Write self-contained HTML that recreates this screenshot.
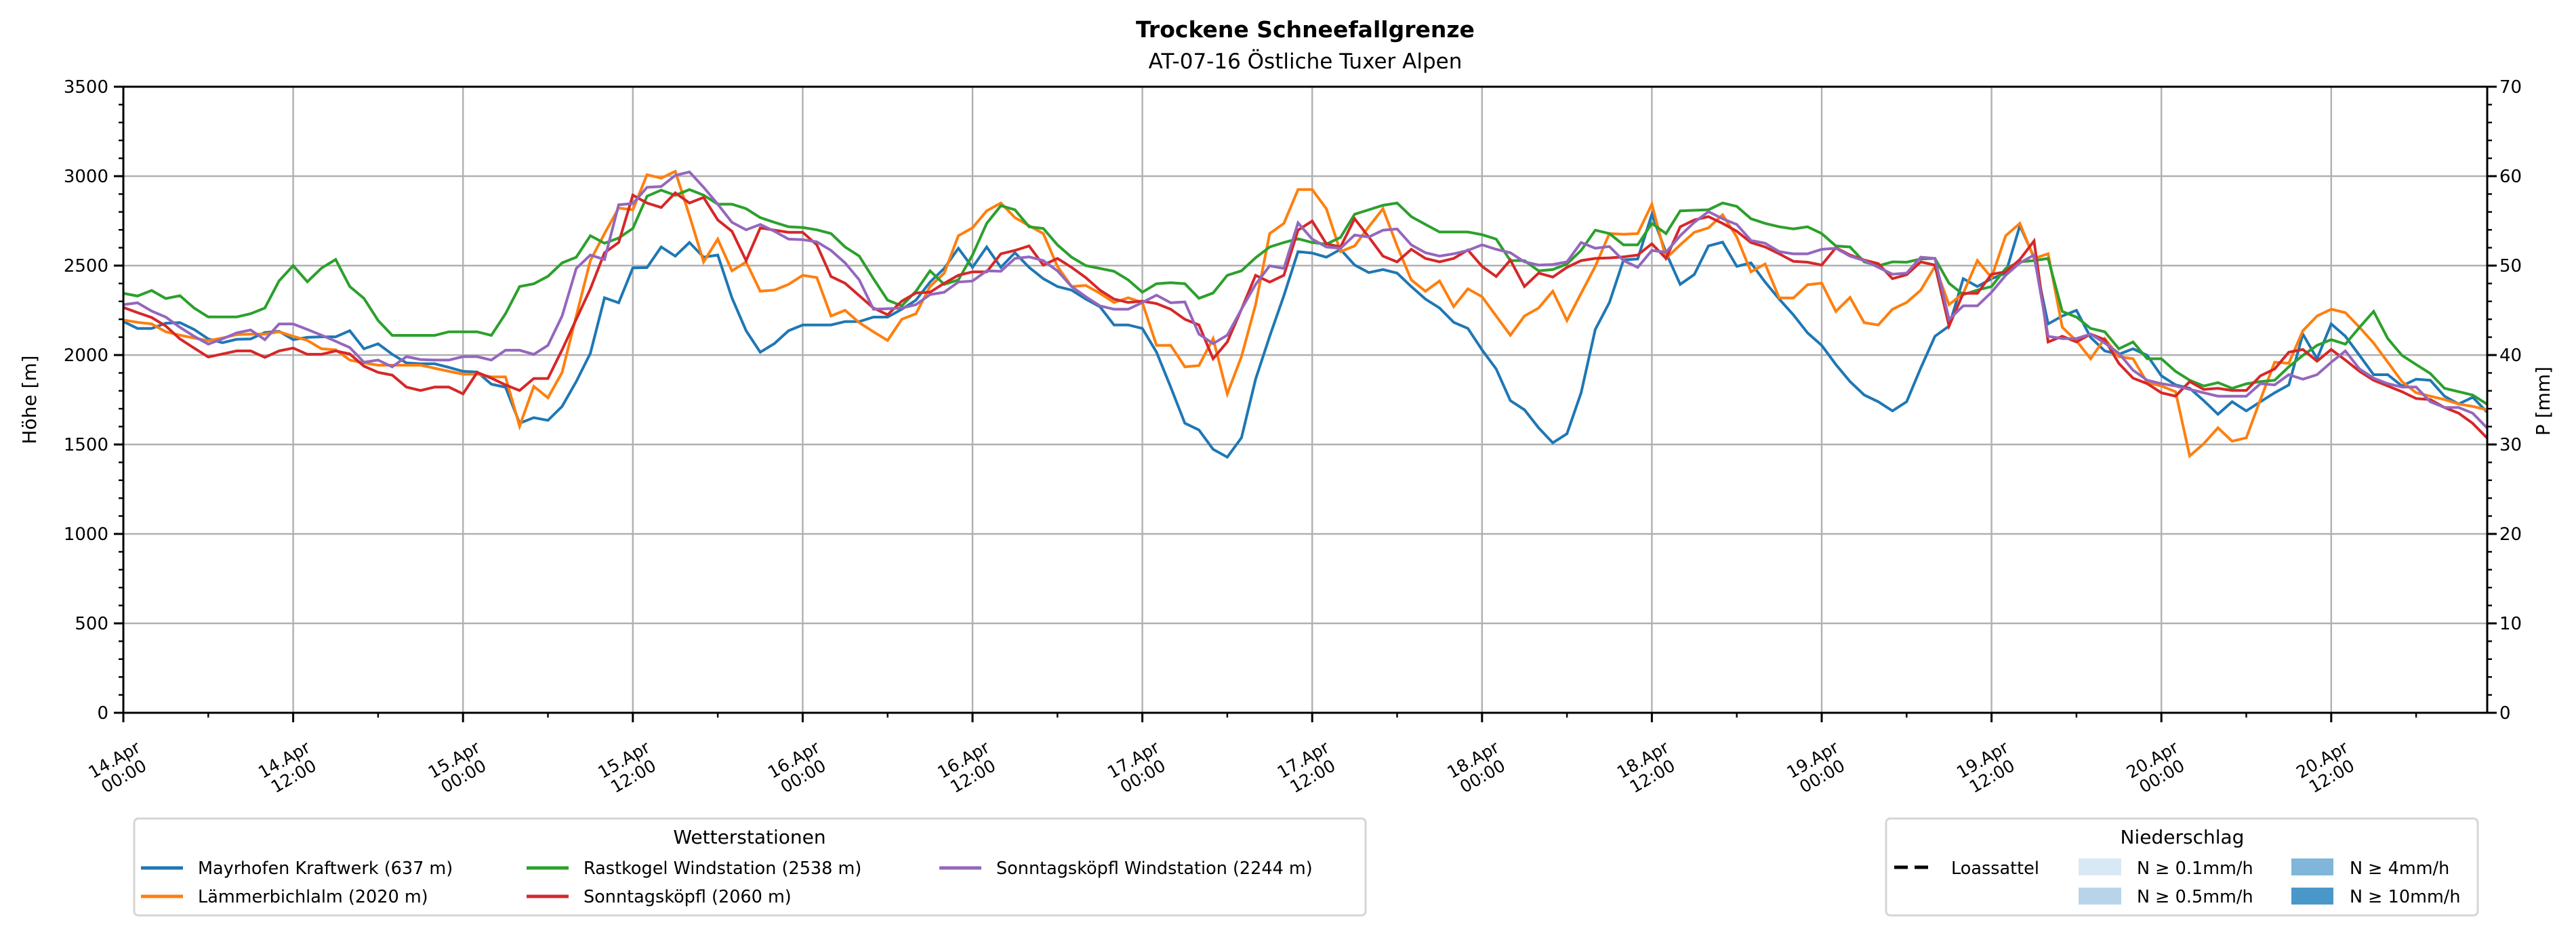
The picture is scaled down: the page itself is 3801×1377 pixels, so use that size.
<!DOCTYPE html>
<html><head><meta charset="utf-8"><title>Trockene Schneefallgrenze</title>
<style>
html,body{margin:0;padding:0;background:#fff;}
svg{display:block;font-family:"DejaVu Sans","Liberation Sans",sans-serif;}
</style></head>
<body>
<svg id="chart" width="3801" height="1377" viewBox="0 0 3801 1377" xmlns="http://www.w3.org/2000/svg">
<rect x="0" y="0" width="3801" height="1377" fill="#fff"/>
<text x="1926" y="55" text-anchor="middle" font-size="33" font-weight="bold">Trockene Schneefallgrenze</text>
<text x="1926" y="101" text-anchor="middle" font-size="31">AT-07-16 Östliche Tuxer Alpen</text>
<g id="grid"></g>
<g id="lines"></g>
<g id="axes"></g>
<text x="0" y="0" transform="translate(53,590) rotate(-90)" text-anchor="middle" font-size="28">Höhe [m]</text>
<text x="0" y="0" transform="translate(3762,592) rotate(-90)" text-anchor="middle" font-size="28">P [mm]</text>

<g>
<rect x="198" y="1208" width="1817" height="143" rx="6" fill="#fff" stroke="#d6d6d6" stroke-width="3"/>
<text x="1106" y="1245" text-anchor="middle" font-size="28">Wetterstationen</text>
<g><line x1="208" y1="1281" x2="270" y2="1281" stroke="#1f77b4" stroke-width="5"/><text x="292" y="1290" font-size="25.5">Mayrhofen Kraftwerk (637 m)</text></g>
<g><line x1="208" y1="1323" x2="270" y2="1323" stroke="#ff7f0e" stroke-width="5"/><text x="292" y="1332" font-size="25.5">Lämmerbichlalm (2020 m)</text></g>
<g><line x1="777" y1="1281" x2="839" y2="1281" stroke="#2ca02c" stroke-width="5"/><text x="861" y="1290" font-size="25.5">Rastkogel Windstation (2538 m)</text></g>
<g><line x1="777" y1="1323" x2="839" y2="1323" stroke="#d62728" stroke-width="5"/><text x="861" y="1332" font-size="25.5">Sonntagsköpfl (2060 m)</text></g>
<g><line x1="1386" y1="1281" x2="1448" y2="1281" stroke="#9467bd" stroke-width="5"/><text x="1470" y="1290" font-size="25.5">Sonntagsköpfl Windstation (2244 m)</text></g>
</g>

<g>
<rect x="2783" y="1208" width="873" height="143" rx="6" fill="#fff" stroke="#d6d6d6" stroke-width="3"/>
<text x="3220" y="1245" text-anchor="middle" font-size="28">Niederschlag</text>
<g><line x1="2795" y1="1280" x2="2851" y2="1280" stroke="#000" stroke-width="5" stroke-dasharray="20,10"/><text x="2879" y="1290" font-size="25.5">Loassattel</text></g>
<g><rect x="3067" y="1267" width="63" height="25" fill="#d9e8f5"/><text x="3153" y="1290" font-size="25.5">N ≥ 0.1mm/h</text></g>
<g><rect x="3067" y="1310" width="63" height="25" fill="#b8d4ea"/><text x="3153" y="1332" font-size="25.5">N ≥ 0.5mm/h</text></g>
<g><rect x="3381" y="1267" width="62" height="25" fill="#7fb6d9"/><text x="3467" y="1290" font-size="25.5">N ≥ 4mm/h</text></g>
<g><rect x="3381" y="1310" width="62" height="25" fill="#4a98c9"/><text x="3467" y="1332" font-size="25.5">N ≥ 10mm/h</text></g>
</g>
</svg>
<script>
// ---- data (hourly, starting 14.Apr 00:00) ----
const hoursTotal = 167;
const yTicks = [0,500,1000,1500,2000,2500,3000,3500];
const y2Ticks = [0,10,20,30,40,50,60,70];
const xTickDays = ["14.Apr","14.Apr","15.Apr","15.Apr","16.Apr","16.Apr","17.Apr","17.Apr","18.Apr","18.Apr","19.Apr","19.Apr","20.Apr","20.Apr"];
const xTickTimes = ["00:00","12:00","00:00","12:00","00:00","12:00","00:00","12:00","00:00","12:00","00:00","12:00","00:00","12:00"];
const mayrhofen = [2187,2149,2149,2178,2181,2143,2090,2069,2088,2090,2126,2133,2086,2099,2102,2102,2136,2035,2063,2004,1956,1951,1951,1931,1909,1905,1837,1820,1619,1650,1635,1713,1852,2010,2320,2292,2487,2489,2604,2553,2629,2547,2559,
2320,2136,2016,2064,2136,2168,2168,2168,2187,2187,2212,2212,2256,2307,2408,2484,2597,2490,2604,2490,2572,2490,2427,2383,2363,2313,2270,2168,2168,2149,2016,1821,1619,1581,1473,1429,1537,1865,2105,2332,2578,2570,
2547,2591,2503,2461,2478,2458,2383,2313,2263,2183,2149,2029,1922,1745,1694,1593,1509,1560,1789,2143,2294,2532,2537,2787,2572,2395,2450,2610,2631,2496,2515,2408,2313,2225,2124,2054,1947,1852,1777,1739,1688,
1739,1928,2105,2162,2427,2383,2427,2458,2723,2547,2174,2218,2250,2099,2023,2004,2035,1998,1884,1833,1814,1745,1669,1739,1688,1739,1789,1833,2117,1979,2174,2105,1998,1890,1890,1827,1865,1859,1770,1726,1764,1682];
const laemmerbichl = [2196,2183,2174,2130,2111,2095,2080,2095,2114,2117,2117,2130,2105,2082,2035,2029,1972,1956,1943,1943,1943,1943,1926,1909,1893,1893,1878,1878,1602,1825,1761,1903,2218,2528,2679,2822,2812,3008,2989,3027,2780,2521,2648,
2471,2521,2357,2363,2395,2446,2433,2218,2250,2181,2130,2082,2200,2231,2383,2458,2667,2711,2806,2850,2768,2723,2679,2496,2383,2389,2345,2294,2320,2294,2054,2054,1934,1941,2092,1783,1991,2282,2679,2736,2925,2925,
2818,2578,2610,2717,2818,2610,2420,2357,2414,2271,2370,2326,2218,2111,2218,2263,2357,2193,2345,2496,2679,2675,2679,2843,2540,2616,2686,2711,2784,2660,2465,2509,2319,2319,2393,2402,2244,2322,2181,2168,2256,
2294,2363,2496,2282,2345,2528,2433,2667,2736,2540,2566,2155,2080,1979,2092,1991,1979,1846,1827,1795,1436,1505,1593,1518,1537,1751,1960,1954,2136,2218,2256,2237,2155,2067,1960,1852,1789,1770,1751,1726,1713,1694];
const rastkogel = [2345,2330,2361,2316,2332,2263,2213,2213,2213,2231,2263,2414,2500,2410,2486,2534,2383,2317,2193,2110,2110,2110,2110,2130,2130,2130,2110,2231,2383,2398,2440,2515,2547,2667,2625,2654,2708,2888,2922,2893,2925,2894,2843,
2843,2818,2768,2742,2717,2713,2700,2679,2604,2553,2427,2307,2275,2357,2471,2395,2420,2559,2736,2835,2812,2717,2708,2616,2547,2500,2484,2468,2420,2351,2399,2404,2399,2317,2347,2446,2471,2544,2604,2629,2650,2629,
2620,2658,2787,2812,2837,2850,2774,2730,2688,2688,2688,2673,2648,2528,2528,2471,2478,2509,2585,2698,2679,2616,2616,2736,2679,2806,2809,2812,2850,2831,2762,2736,2717,2705,2717,2679,2610,2604,2521,2499,2521,
2519,2537,2540,2401,2338,2363,2383,2484,2521,2528,2540,2244,2212,2149,2130,2035,2073,1979,1979,1909,1859,1827,1846,1814,1839,1852,1859,1934,1998,2054,2086,2061,2155,2244,2092,1998,1947,1897,1814,1795,1776,1726];
const sonntagskoepfl = [2266,2237,2210,2162,2090,2039,1989,2006,2023,2023,1987,2023,2039,2004,2004,2023,2006,1938,1903,1888,1821,1802,1821,1821,1783,1903,1871,1833,1802,1869,1869,2029,2200,2370,2572,2629,2894,2850,2825,2907,2850,2881,2755,
2692,2528,2711,2698,2686,2686,2616,2439,2401,2332,2263,2225,2301,2347,2351,2401,2446,2465,2465,2566,2585,2610,2503,2540,2490,2433,2363,2313,2294,2301,2288,2256,2200,2168,1979,2073,2256,2446,2408,2446,2698,2749,
2622,2604,2762,2660,2553,2521,2591,2540,2521,2540,2587,2496,2439,2531,2383,2458,2436,2490,2528,2540,2543,2549,2559,2622,2540,2717,2755,2774,2736,2692,2629,2604,2566,2524,2519,2503,2600,2559,2531,2511,2427,
2449,2521,2503,2162,2345,2345,2452,2465,2534,2638,2073,2105,2073,2117,2086,1953,1871,1840,1789,1770,1852,1808,1814,1802,1802,1884,1922,2016,2031,1966,2031,1972,1909,1859,1827,1795,1757,1751,1707,1675,1618,1537];
const sonntagskoepflWind = [2282,2292,2246,2212,2155,2105,2061,2090,2124,2140,2086,2174,2174,2143,2111,2077,2042,1960,1972,1934,1991,1975,1972,1972,1991,1991,1972,2027,2027,2004,2054,2218,2484,2559,2534,2840,2847,2938,2942,3004,3024,2938,2843,
2742,2700,2730,2692,2648,2645,2633,2585,2515,2420,2256,2259,2263,2282,2338,2351,2408,2414,2471,2468,2540,2549,2528,2471,2383,2326,2275,2256,2256,2294,2335,2292,2297,2117,2064,2111,2256,2395,2499,2484,2739,2648,
2604,2597,2671,2660,2698,2705,2616,2572,2553,2566,2585,2616,2591,2572,2521,2503,2506,2521,2629,2597,2607,2528,2490,2585,2575,2667,2742,2802,2762,2730,2641,2625,2578,2566,2566,2591,2597,2553,2528,2490,2452,
2458,2547,2540,2199,2275,2275,2351,2446,2515,2559,2105,2092,2092,2117,2067,2010,1915,1859,1840,1827,1808,1789,1770,1770,1770,1840,1833,1890,1865,1890,1960,2023,1922,1871,1840,1821,1821,1739,1707,1707,1675,1593];

// ---- layout ----
const L = 182, R = 3670, T = 128, B = 1052;
const hourPx = 250.6 / 12;
const yMax = 3500;
function xs(h){ return L + h * hourPx; }
function ys(v){ return B - v / yMax * (B - T); }
const NS = "http://www.w3.org/2000/svg";
function mk(tag, attrs, parent){ const e = document.createElementNS(NS, tag); for (const k in attrs) e.setAttribute(k, attrs[k]); parent.appendChild(e); return e; }

const grid = document.getElementById('grid');
const axes = document.getElementById('axes');
const linesG = document.getElementById('lines');

yTicks.forEach((v, i) => {
  const y = ys(v);
  if (v > 0 && v < yMax) {
    const g = mk('line', {x1:L, x2:R, y1:y, y2:y, stroke:'#b0b0b0', 'stroke-width':2.4}, grid);
    
    
  }
  mk('line', {x1:L-14, x2:L, y1:y, y2:y, stroke:'#000', 'stroke-width':3}, axes);
  mk('line', {x1:R, x2:R+14, y1:y, y2:y, stroke:'#000', 'stroke-width':3}, axes);
  const t = mk('text', {x:L-22, y:y+9, 'text-anchor':'end', 'font-size':26}, axes);
  t.textContent = v;
  
  
  const t2 = mk('text', {x:R+18, y:y+9, 'text-anchor':'start', 'font-size':26}, axes);
  t2.textContent = y2Ticks[i];
  
  
});
for (let v = 100; v < yMax; v += 100) {
  if (v % 500 === 0) continue;
  const y = ys(v);
  mk('line', {x1:L-7, x2:L, y1:y, y2:y, stroke:'#000', 'stroke-width':2.4}, axes);
  mk('line', {x1:R, x2:R+7, y1:y, y2:y, stroke:'#000', 'stroke-width':2.4}, axes);
}
xTickDays.forEach((d, i) => {
  const x = xs(i * 12);
  if (i > 0) {
    const g = mk('line', {x1:x, x2:x, y1:T, y2:B, stroke:'#b0b0b0', 'stroke-width':2.4}, grid);
    
    
  }
  mk('line', {x1:x, x2:x, y1:B, y2:B+14, stroke:'#000', 'stroke-width':3}, axes);
  const xm = xs(i * 12 + 6);
  mk('line', {x1:xm, x2:xm, y1:B, y2:B+7, stroke:'#000', 'stroke-width':2.4}, axes);
  const t = mk('text', {transform:'translate(' + (x - 6) + ',1134) rotate(-30)', 'text-anchor':'middle', 'font-size':25}, axes);
  
  
  const s1 = mk('tspan', {x:0, y:-6}, t); s1.textContent = d;
  const s2 = mk('tspan', {x:0, y:22}, t); s2.textContent = xTickTimes[i];
});
const frame = mk('rect', {x:L, y:T, width:R-L, height:B-T, fill:'none', stroke:'#000', 'stroke-width':3}, axes);



const seriesList = [
  [mayrhofen, '#1f77b4', 'line-mayrhofen'],
  [laemmerbichl, '#ff7f0e', 'line-laemmerbichlalm'],
  [rastkogel, '#2ca02c', 'line-rastkogel'],
  [sonntagskoepfl, '#d62728', 'line-sonntagskoepfl'],
  [sonntagskoepflWind, '#9467bd', 'line-sonntagskoepfl-wind']
];
seriesList.forEach(s => {
  const pts = s[0].map((v, h) => xs(h).toFixed(1) + ',' + ys(v).toFixed(1)).join(' ');
  const p = mk('polyline', {points:pts, fill:'none', stroke:s[1], 'stroke-width':4, 'stroke-linejoin':'miter'}, linesG);
  
  
});
</script>
</body></html>
